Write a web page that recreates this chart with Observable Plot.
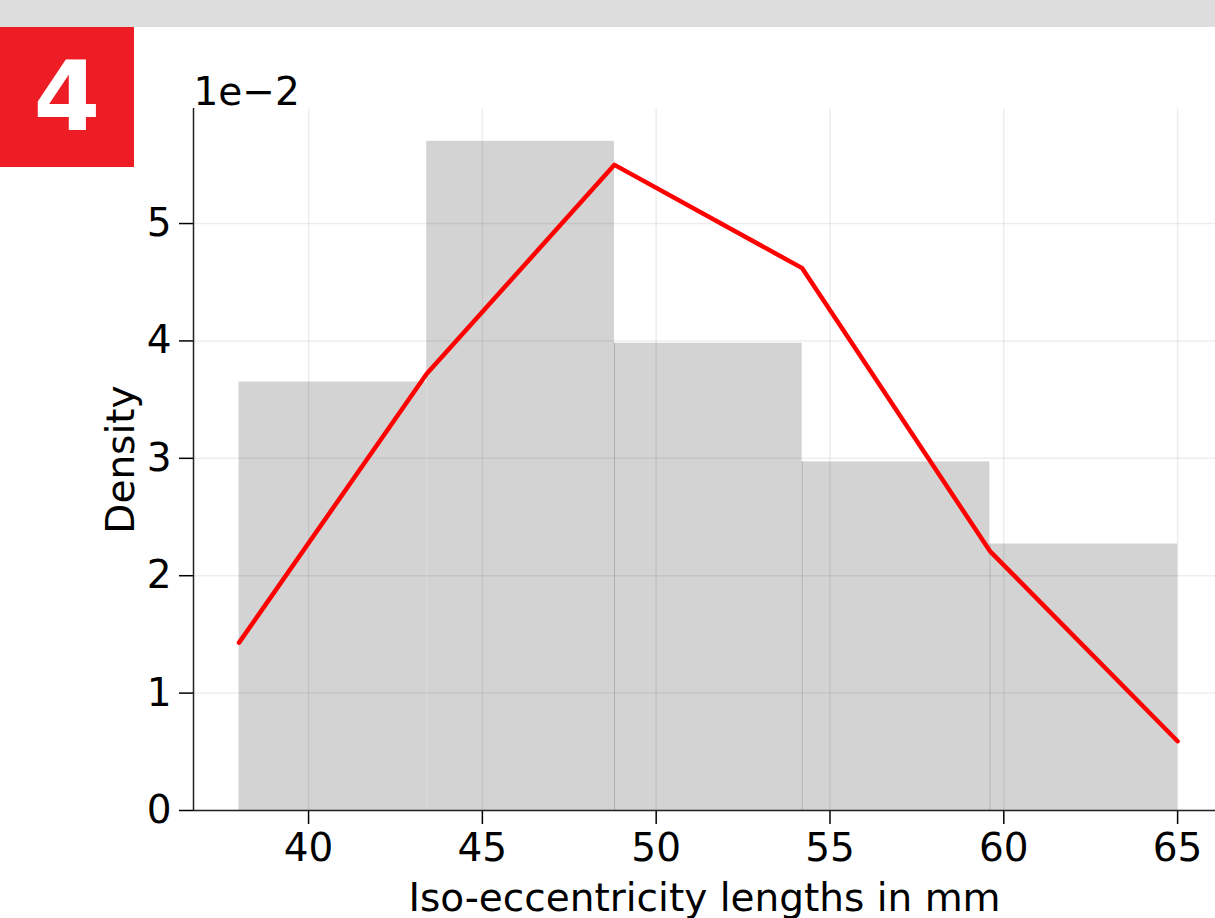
<!DOCTYPE html>
<html>
<head>
<meta charset="utf-8">
<script src="https://cdn.jsdelivr.net/npm/d3@7"></script>
<script src="https://cdn.jsdelivr.net/npm/@observablehq/plot@0.6"></script>
<style>
  html, body { margin: 0; padding: 0; background: #fff; }
  #wrap { position: relative; width: 1215px; height: 918px; overflow: hidden; font-family: "DejaVu Sans", sans-serif; }
  #topbar { position: absolute; left: 0; top: 0; width: 1215px; height: 27px; background: #dddddd; }
  #badge { position: absolute; left: 0; top: 27px; width: 134px; height: 140px; background: #ee1c25; color: #fff;
           font-weight: bold; font-size: 96px; line-height: 140px; text-align: center; font-family: "DejaVu Sans", sans-serif; }
  #chart { position: absolute; left: 0; top: 0; }
</style>
</head>
<body>
<div id="wrap">
  <div id="chart"></div>
  <div id="topbar"></div>
  <div id="badge">4</div>
</div>
<script>
// Histogram bin edges (mm)
const binEdges = [38, 43.4, 48.8, 54.2, 59.6, 65];
// Bar densities (×1e-2)
const density = [3.65, 5.70, 3.98, 2.97, 2.27];
// Red curve values at the bin edges (×1e-2)
const curveY = [1.43, 3.72, 5.50, 4.62, 2.21, 0.59];
// Tick values
const xTicks = [40, 45, 50, 55, 60, 65];
const yTicks = [0, 1, 2, 3, 4, 5];
const xDomain = [36.69, 66.09];
const yDomain = [0, 5.98];

const bars = density.map((d, i) => ({x1: binEdges[i], x2: binEdges[i + 1], y: d}));
const curve = binEdges.map((x, i) => ({x, y: curveY[i]}));
const innerEdges = binEdges.slice(1, -1)
  .map((x, i) => ({x, y: density[i + 1], show: density[i] > density[i + 1]}))
  .filter(d => d.show);

const FS = 39;
const chart = Plot.plot({
  width: 1215,
  height: 918,
  marginLeft: 193,
  marginRight: 0,
  marginTop: 108,
  marginBottom: 108,
  style: {fontFamily: "DejaVu Sans, sans-serif", fontSize: FS + "px", color: "#000", background: "transparent"},
  x: {domain: xDomain, label: null},
  y: {domain: yDomain, label: null},
  marks: [
    Plot.rectY(bars, {x1: "x1", x2: "x2", y1: 0, y2: "y", fill: "#d3d3d3"}),
    Plot.ruleX(innerEdges, {x: "x", y1: 0, y2: "y", stroke: "#b0b0b0", strokeWidth: 1}),
    Plot.gridX(xTicks, {stroke: "#000", strokeOpacity: 0.07, strokeWidth: 1.5}),
    Plot.gridY(yTicks, {stroke: "#000", strokeOpacity: 0.07, strokeWidth: 1.5}),
    Plot.line(curve, {x: "x", y: "y", stroke: "#ff0000", strokeWidth: 4.5}),
    Plot.axisX(xTicks, {tickSize: 14, tickPadding: 9, strokeWidth: 1.5, fontSize: FS, label: null, tickFormat: d => String(d)}),
    Plot.axisY(yTicks, {tickSize: 14, tickPadding: 8, strokeWidth: 1.5, fontSize: FS, label: null, tickFormat: d => String(d)}),
    Plot.ruleY([yDomain[0]], {stroke: "#222", strokeWidth: 1.5}),
    Plot.ruleX([xDomain[0]], {stroke: "#222", strokeWidth: 1.5}),
    Plot.text(["Density"], {frameAnchor: "left", rotate: -90, dx: -72, fontSize: FS, textAnchor: "middle"}),
    Plot.text(["Iso-eccentricity lengths in mm"], {frameAnchor: "bottom", dy: 100, fontSize: FS, textAnchor: "middle"}),
    Plot.text(["1e\u22122"], {frameAnchor: "top-left", textAnchor: "start", lineAnchor: "bottom", dy: -4, fontSize: FS})
  ]
});
document.getElementById("chart").appendChild(chart);
</script>
</body>
</html>
